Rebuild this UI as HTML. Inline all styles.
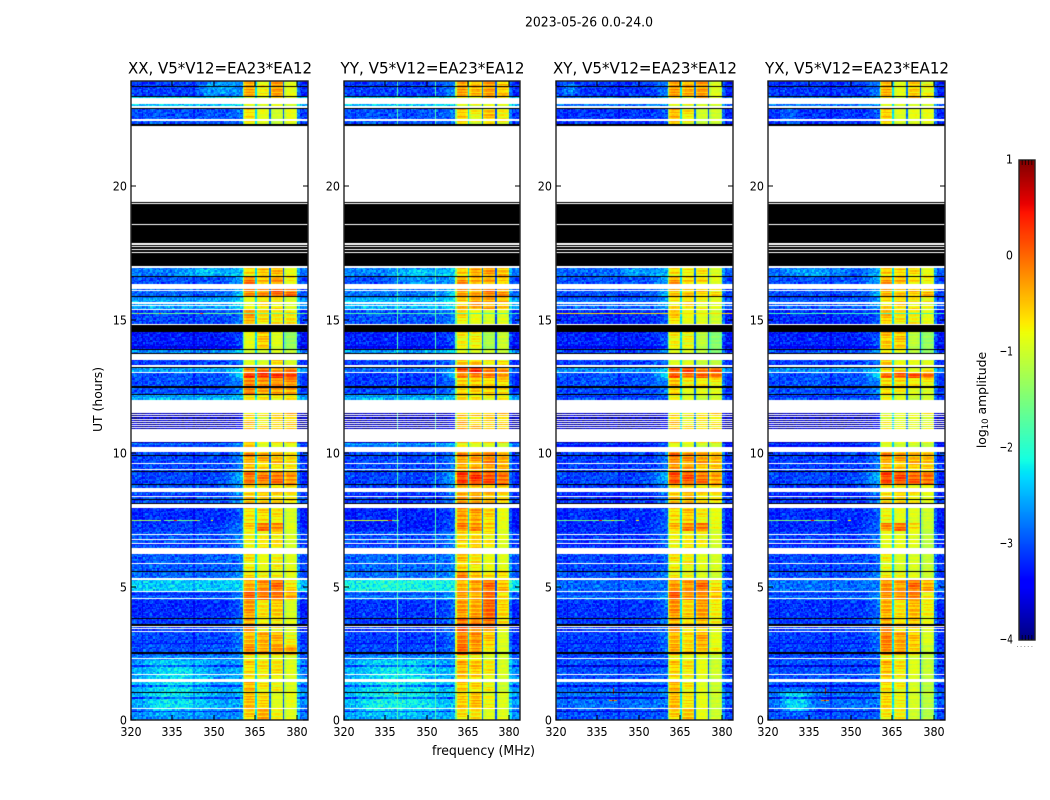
<!DOCTYPE html>
<html lang="en">
<head>
<meta charset="utf-8">
<title>2023-05-26 0.0-24.0</title>
<style>
html,body{margin:0;padding:0;background:#fff;width:1050px;height:800px;overflow:hidden}
#figure{position:relative;width:1050px;height:800px;background:#fff}
canvas{position:absolute;display:block}
svg{position:absolute;left:0;top:0}
text{font-family:"DejaVu Sans","Liberation Sans",sans-serif;fill:#000}
</style>
</head>
<body>
<div id="figure">
<canvas id="heat-XX"></canvas>
<canvas id="heat-YY"></canvas>
<canvas id="heat-XY"></canvas>
<canvas id="heat-YX"></canvas>
<canvas id="cbar"></canvas>
<svg id="overlay" width="1050" height="800" viewBox="0 0 1050 800">
<text x="589" y="26.5" font-size="13.2" text-anchor="middle" textLength="128" lengthAdjust="spacingAndGlyphs">2023-05-26 0.0-24.0</text>
<text x="483.5" y="755" font-size="13.2" text-anchor="middle" textLength="103" lengthAdjust="spacingAndGlyphs">frequency (MHz)</text>
<text transform="translate(102 399.5) rotate(-90)" font-size="12.4" text-anchor="middle">UT (hours)</text>
<text transform="translate(986 400) rotate(-90)" font-size="12.4" text-anchor="middle">log<tspan dy="2" font-size="8.5">10</tspan><tspan dy="-2"> amplitude</tspan></text>
</svg>
</div>
<script>
/* ---------- axes data ---------- */
const panelNames = ['XX','YY','XY','YX'];
const panelTitles = ['XX, V5*V12=EA23*EA12','YY, V5*V12=EA23*EA12','XY, V5*V12=EA23*EA12','YX, V5*V12=EA23*EA12'];
const xTicks = [320,335,350,365,380];
const yTicks = [0,5,10,15,20];
const colorTicks = [1,0,-1,-2,-3,-4];
const colorTickLabels = ['1','0','\u22121','\u22122','\u22123','\u22124'];

/* ---------- time structure, in UT hours ---------- */
const scanEdges = [23.95,23.37,23.09,22.94,22.28,16.95,16.60,16.17,15.89,15.40,14.82,13.92,13.51,13.23,13.03,12.78,12.47,12.20,11.56,10.42,10.06,9.62,9.32,8.85,8.11,7.40,7.10,6.43,5.60,5.25,4.82,4.52,3.84,3.28,2.80,2.47,2.27,1.44,1.01,0.40,0];
const blackRows = [[23.77,23.75],[23.39,23.36],[22.95,22.90],[22.32,22.28],[19.40,19.36],[19.34,17.00],[16.64,16.60],[15.91,15.87],[14.82,14.54],[13.92,13.89],[13.75,13.71],[13.23,13.20],[12.50,12.45],[12.22,12.18],[9.95,9.91],[9.33,9.30],[8.85,8.79],[8.30,8.27],[8.15,8.11],[5.60,5.55],[3.84,3.79],[3.58,3.54],[2.53,2.47],[1.05,1.01]];
const whiteRows = [[23.30,23.09],[23.03,22.94],[22.54,22.51],[22.48,22.45],[22.28,19.40],[19.36,19.34],[18.59,18.55],[17.86,17.82],[17.77,17.73],[17.66,17.63],[17.54,17.50],[17.00,16.95],[16.36,16.17],[16.11,16.08],[15.65,15.61],[15.55,15.52],[15.40,15.37],[14.86,14.82],[13.71,13.51],[13.31,13.23],[13.06,13.03],[11.98,11.56],[11.54,11.50],[11.46,11.42],[11.38,11.34],[11.30,11.26],[11.22,11.18],[11.14,11.10],[11.06,11.02],[10.98,10.94],[10.92,10.42],[10.25,10.06],[9.63,9.60],[9.41,9.37],[8.68,8.55],[8.40,8.34],[8.11,7.96],[6.99,6.95],[6.78,6.73],[6.63,6.58],[6.43,6.24],[5.87,5.83],[5.34,5.25],[4.85,4.82],[4.57,4.52],[3.52,3.49],[3.45,3.42],[3.35,3.28],[2.31,2.27],[1.74,1.71],[1.52,1.44],[0.44,0.40]];
const dimRows = [[2.06,2.02],[1.31,1.27],[0.83,0.79],[0.34,0.30]];

/* ---------- spectral structure, in MHz ---------- */
const subBands = [[360.5,365.1],[365.7,370.1],[370.7,375.1],[375.7,380]];
const bandGaps = [[365.1,365.7],[370.1,370.7],[375.1,375.7]];
const gapLevels = [-2.3,-2.8,-3.0];
const shoulderBoost = [.4,.2,.1,.2,0,.4,.4,.5,.3,.3,.3,.4,.3,.4,.7,.3,.3,.2,.3,.3,.3,.3,.6,.4,.3,.3,.3,.2,.2,.05,.3,.3,.3,.25,.25,.1,.1,.1,.1,.1];

/* ---------- log10 amplitude per scan: background, sub-band 1..4 ---------- */
const levelsXX = [[-3.1,-.35,-.75,-.3,-.85],[-2.3,-.8,-.85,-.8,-.95],[-2.4,-.8,-.9,-.7,-1],[-3,-.6,-.85,-1,-.85],[-3,-1,-1,-1,-1],[-2.8,-.6,-.45,-.45,-.85],[-3,-.1,-.4,-.2,-.7],[-2.9,-.2,-.2,.05,-.1],[-2.6,-.85,-.75,-.7,-.9],[-3.05,-.35,-.7,-.75,-.7],[-3.3,-.85,-.5,-.9,-1.3],[-2.7,-1,-1,-.9,-1],[-3.1,-.9,-.95,-.6,-.95],[-2.6,-.2,-.1,-.3,-.1],[-3,.3,.3,.2,.15],[-3,-.1,-.2,-.2,-.2],[-3,-.05,-.4,-.3,-.3],[-2.5,-.7,-.7,-.7,-.75],[-3.8,-.5,-.7,-.5,-.45],[-2.85,-.5,-.9,-.85,-.85],[-3.05,-.3,-.4,-.5,-.65],[-3.05,-.4,-.55,-.65,-.75],[-3.05,-.05,-.1,-.05,-.2],[-3,-.5,-.6,-.55,-.7],[-3.2,-.65,-.6,-.7,-.95],[-3.1,-.55,-.05,-.15,-.85],[-3,-.8,-.75,-.7,-.95],[-2.95,-.7,-.85,-.8,-.9],[-2.9,-.6,-.7,-.7,-.85],[-2.4,-.35,-.2,-.05,-.65],[-2.95,.05,-.1,-.05,-.3],[-3.2,-.3,-.7,-.55,-.95],[-3.1,-.3,-.7,-.7,-.9],[-3.05,-.4,-.35,-.4,-.8],[-3,-.2,-.4,-.25,-.3],[-2.8,-.8,-.9,-.9,-1],[-2.65,-.6,-.7,-.7,-.9],[-2.6,-.4,-.7,-.8,-.9],[-2.6,-.45,-.6,-.9,-.85],[-2.75,-.6,-.4,-.8,-.9]];
const levelsYY = [[-3.1,-.3,-.4,-.3,-.5],[-2.3,-.6,-.7,-.6,-.8],[-2.4,-.8,-.8,-.7,-.9],[-3,-.5,-.8,-.5,-.8],[-3,-1,-1,-1,-1],[-2.75,-.5,-.3,-.3,-.5],[-3,-.25,-.3,-.3,-.5],[-2.8,-.3,-.3,-.1,-.3],[-2.5,-.5,-.35,-.3,-.4],[-3,-.7,-.85,-.95,-.9],[-3.25,-.75,-.75,-1.2,-1],[-2.6,-.9,-.9,-1,-1],[-3.1,-.5,-.5,-.8,-.7],[-2.9,.2,.25,-.1,-.2],[-3.1,-.1,-.05,-.2,-.3],[-3.1,-.5,-.5,-.6,-.6],[-3.05,-.5,-.6,-.55,-.6],[-2.5,-.6,-.7,-.75,-.8],[-3.8,-.4,-.5,-.45,-.5],[-2.6,-.8,-.9,-.9,-1],[-3.05,-.25,-.3,-.2,-.4],[-3.05,-.3,-.3,-.25,-.45],[-3.05,.25,.25,.15,0],[-3.1,-.3,-.4,-.4,-.6],[-3.25,-.25,-.3,-.6,-.85],[-3.25,-.15,-.2,-.5,-.85],[-3,-.6,-.6,-.75,-.9],[-2.9,-.5,-.7,-.85,-.9],[-2.85,-.1,-.4,-.6,-.6],[-2.2,-.4,-.3,-.05,-.45],[-2.8,-.3,-.4,0,-.6],[-3.15,-.3,-.35,0,-.6],[-3.1,0,-.1,-.05,-.7],[-3.1,-.1,-.2,-.5,-.9],[-3.05,0,-.3,-.7,-.9],[-2.8,-.7,-.8,-1,-1],[-2.6,-.4,-.5,-.75,-.95],[-2.55,-.5,-.6,-.8,-1],[-2.5,-.55,-.45,-.8,-.9],[-2.6,-.7,-.7,-.9,-.9]];
const levelsXY = [[-3.15,-.3,-.35,-.3,-.9],[-2.8,-.5,-.7,-.5,-1],[-2.8,-.8,-.8,-.8,-1],[-3.15,-.4,-.7,-1,-1],[-3,-1,-1,-1,-1],[-2.9,-.6,-.7,-.7,-.95],[-3,-.3,-.5,-.55,-.85],[-3,-.5,-.5,-.55,-.7],[-2.9,-.7,-.7,-.8,-.85],[-3.2,-.6,-.85,-.9,-1],[-3.25,-.75,-.8,-1.1,-1.4],[-3.05,-.9,-.9,-1.1,-1.4],[-3.1,-.9,-.9,-1.05,-1.1],[-2.7,.1,.1,-.1,.05],[-3,.15,0,-.05,-.1],[-3,-.4,-.7,-.7,-.75],[-3.05,-.5,-.9,-.85,-.85],[-3,-.8,-.9,-1,-1],[-3.8,-.5,-.7,-.6,-.6],[-3.1,-.85,-.9,-1,-1],[-3.1,-.1,-.25,-.35,-.45],[-3.1,-.2,-.25,-.45,-.55],[-3.05,.15,.1,-.05,-.25],[-3.15,-.5,-.5,-.6,-.7],[-3.2,-.6,-.5,-.75,-.85],[-3.2,-.45,-.15,-.05,-.8],[-3.15,-.8,-.75,-.8,-.95],[-3.05,-.7,-.8,-.9,-.95],[-3,-.7,-.75,-.9,-1],[-2.9,-.25,-.25,-.05,-.65],[-2.85,.1,-.25,-.2,-.45],[-3.15,-.25,-.6,-.3,-.75],[-3.1,-.35,-.6,-.45,-.8],[-3.1,-.4,-.6,-.35,-.85],[-3.1,-.35,-.6,-.45,-.75],[-3.05,-.8,-.9,-.9,-1.1],[-3,-.55,-.7,-.85,-1],[-2.9,-.4,-.7,-.9,-1],[-2.85,-.45,-.7,-.85,-1],[-3,-.6,-.55,-.85,-1]];
const levelsYX = [[-3.15,-.4,-.85,-.55,-.8],[-2.8,-.5,-.8,-.55,-.9],[-2.8,-.85,-.9,-.8,-1],[-3.15,-.5,-.9,-.85,-.85],[-3,-1,-1,-1,-1],[-2.9,-.5,-.55,-.65,-.85],[-3,-.3,-.35,-.6,-.7],[-3,-.4,-.5,-.5,-.5],[-2.95,-.65,-.65,-.7,-.75],[-3.2,-.5,-.75,-.8,-.85],[-3.25,-.5,-.5,-1.1,-1.3],[-3,-.75,-.8,-1.1,-1.3],[-3.1,-.5,-.85,-.85,-.9],[-2.7,-.6,-.65,-.9,-.7],[-3,.05,.1,.05,-.05],[-3,-.55,-.6,-.7,-.75],[-3,-.55,-.8,-.9,-.9],[-3,-.8,-.9,-1,-1],[-3.8,-.8,-.85,-.8,-.8],[-3.1,-.9,-1,-1,-1.05],[-3.1,-.25,-.35,-.45,-.45],[-3.1,-.4,-.45,-.5,-.6],[-3.05,.2,.15,.05,0],[-3.15,-.6,-.65,-.7,-.85],[-3.2,-.75,-.85,-.9,-1],[-3.2,-.2,-.05,-.6,-1],[-3.1,-.85,-.85,-.9,-1.1],[-3.05,-.8,-.95,-.95,-1.05],[-3,-.7,-.75,-.85,-1],[-2.85,-.2,-.3,-.05,-.35],[-2.9,-.25,-.25,-.1,-.7],[-3.15,-.4,-.7,-.45,-.75],[-3.1,-.3,-.6,-.5,-.85],[-3.1,-.1,-.3,-.5,-.9],[-3.1,-.2,-.35,-.55,-1],[-3.05,-.8,-.9,-1,-1.1],[-3,-.45,-.7,-.9,-1.05],[-2.95,-.6,-.75,-.95,-1.1],[-2.85,-.6,-.8,-.95,-1.1],[-3,-.75,-.8,-1,-1.15]];

/* ---------- soft background glows: hourTop, hourBottom, MHzLow, MHzHigh, peak added log10 amplitude ---------- */
const patchesXX = [[2.47,0,320,352,.35],[23.95,23.37,342,360,.5],[16.95,16.6,335,360,.35]];
const patchesYY = [[2.47,0,320,358,.35],[5.25,4.82,320,356,.12],[16.95,16.17,335,360,.35]];
const patchesXY = [[23.95,23.37,321,329,.4],[16.95,16.6,340,360,.3]];
const patchesYX = [[1.2,.2,322,338,.5],[16.95,16.6,322,350,.3],[23.09,22.28,322,332,.2]];

/* ---------- narrow interference: hourTop, hourBottom, MHzLow, MHzHigh, log10 amplitude ---------- */
const rfiXX = [[7.48,7.44,320,331,-1.3],[7.48,7.44,332,345,-1.6],[7.48,7.44,335.5,336.5,.4],[7.48,7.44,349,349.5,-.8],[7.48,7.44,343,344,-.6],[15.25,15.21,320,384,-1.6],[15.25,15.21,322,323,-.2],[15.25,15.21,330,331,-.2],[15.25,15.21,345,346,.2]];
const rfiYY = [[23.95,0,339.2,339.7,-1.8],[23.95,0,353,353.5,-1.8],[7.48,7.44,320,336,-1],[7.48,7.44,336,337.5,.5],[7.48,7.44,337.5,340,-1.5],[15.25,15.21,320,384,-1.8],[1.0,.96,338,340,-.4]];
const rfiXY = [[7.48,7.44,320,345,-1.6],[7.48,7.44,335.5,336.5,.5],[7.48,7.44,349,350,-.7],[7.48,7.44,340,341,-.8],[15.25,15.21,320,384,-.6],[1.2,.98,340.5,341,.8],[.76,.70,339,342,-.2],[.76,.70,340.2,341,.8]];
const rfiYX = [[7.48,7.44,320,345,-1.5],[7.48,7.44,335.5,336.5,.5],[7.48,7.44,349,350,-.7],[15.25,15.21,320,384,-1.9],[15.25,15.21,327,328,-.9],[15.25,15.21,340,341,-.9],[1.2,.98,340.5,341,.8],[.76,.70,339,342,-.2],[.76,.70,340.2,341,.8]];

/* ---------- hand-read texture offsets that give the noisy look ---------- */
const speckA = [.12,-.2,.05,.24,-.11,-.27,.18,.02,-.15,.28,-.06,.09,-.23,.16,-.02,.21,-.18,.07,-.29,.13,.26,-.09,-.14,.03,.19,-.25,.1,-.04,.23,-.17,.06,-.21,.15,-.08,.27,-.12,.01];
const speckB = [-.1,.14,-.03,.08,-.16,.11,.02,-.07,.17,-.13,.05,.12,-.18,.09,-.01,.15,-.12,.04,-.06,.18,-.15,.07,-.09];
const bandRipple = [.08,-.12,.15,-.04,.18,-.16,.03,.12,-.2,.06,.14,-.08,-.14];

const panelLefts = [131,344,556,768];
const panelRights = [308,520,733,945];
const panelTop = 81, panelBottom = 720;
const xMin = 320, xMax = 384, yMin = 0, yMax = 23.95;
const levelTables = [levelsXX,levelsYY,levelsXY,levelsYX];
const rfiTables = [rfiXX,rfiYY,rfiXY,rfiYX];
const patchTables = [patchesXX,patchesYY,patchesXY,patchesYX];

function xScale(panel, mhz){ return panelLefts[panel] + (mhz-xMin)/(xMax-xMin)*(panelRights[panel]-panelLefts[panel]); }
function yScale(hour){ return panelBottom - (hour-yMin)/(yMax-yMin)*(panelBottom-panelTop); }
function clamp01(v){ return Math.max(0,Math.min(1,v)); }
function interp(pts,t){
  for(let i=1;i<pts.length;i++){ if(t<=pts[i][0]){ const a=pts[i-1],b=pts[i]; return a[1]+(b[1]-a[1])*(t-a[0])/(b[0]-a[0]); } }
  return pts[pts.length-1][1];
}
const jetR=[[0,0],[.35,0],[.66,1],[.89,1],[1,.5]];
const jetG=[[0,0],[.125,0],[.375,1],[.64,1],[.91,0],[1,0]];
const jetB=[[0,.5],[.11,1],[.34,1],[.65,0],[1,0]];
function colorOf(level){
  const t=clamp01((level+4)/5);
  return 'rgb('+Math.round(255*interp(jetR,t))+','+Math.round(255*interp(jetG,t))+','+Math.round(255*interp(jetB,t))+')';
}
function blockIndex(hour){
  for(let i=0;i<scanEdges.length-1;i++){ if(hour>scanEdges[i+1]) return i; }
  return scanEdges.length-2;
}
function glow(p,mhz,hour){
  if(hour>p[0]||hour<p[1]||mhz<p[2]||mhz>=p[3]) return 0;
  const mid=(p[2]+p[3])/2;
  const tentF=1-Math.abs(mhz-mid)/((p[3]-p[2])/2);
  const hourMid=(p[0]+p[1])/2;
  const tentH=1-Math.abs(hour-hourMid)/((p[0]-p[1])/2);
  return p[4]*Math.min(1,tentF*1.4)*Math.min(1,tentH*3);
}
function cellLevel(levels,patches,mhz,hour,c,r){
  const b=blockIndex(hour), row=levels[b];
  const noise=speckA[(c*17+r*29+c*r)%37]+speckB[(c*5+r*11)%23];
  for(let i=0;i<subBands.length;i++){
    const s=subBands[i];
    if(mhz>=s[0]&&mhz<s[1]){
      const d=(mhz-(s[0]+s[1])/2)/((s[1]-s[0])/2);
      let v=row[i+1]-.3*d*d*d*d+bandRipple[(r+i*3)%13]*(row[i+1]>-.85?1.3:.5)+noise*.2;
      if(i===0&&mhz<361) v-=.7;
      return v;
    }
  }
  for(let i=0;i<bandGaps.length;i++){
    if(mhz>=bandGaps[i][0]&&mhz<bandGaps[i][1]) return gapLevels[i]+noise*.4;
  }
  let base=row[0];
  if(mhz>=354&&mhz<360.5) base+=shoulderBoost[b]*(mhz-354)/6.5;
  if(mhz>=380&&mhz<381) base+=.25;
  if(mhz>=381) base-=.1;
  for(const p of patches) base+=glow(p,mhz,hour);
  for(const d of dimRows){ if(hour<=d[0]&&hour>=d[1]) base-=.6; }
  return base+noise;
}
function drawRow(ctx,panel,left,h0,h1,color){
  const y0=Math.round(yScale(h0))-panelTop;
  let y1=Math.round(yScale(h1))-panelTop;
  if(y1<=y0) y1=y0+1;
  ctx.fillStyle=color;
  ctx.fillRect(0,y0,panelRights[panel]-left,y1-y0);
}
function drawPanel(panel){
  const left=panelLefts[panel], right=panelRights[panel];
  const cv=document.getElementById('heat-'+panelNames[panel]);
  cv.width=right-left; cv.height=panelBottom-panelTop;
  cv.style.left=left+'px'; cv.style.top=panelTop+'px';
  const ctx=cv.getContext('2d');
  const levels=levelTables[panel], patches=patchTables[panel];
  const dF=.5, dH=.05;
  const nC=Math.round((xMax-xMin)/dF), nR=Math.ceil((yMax-yMin)/dH);
  for(let r=0;r<nR;r++){
    const h0=yMin+r*dH, h1=h0+dH;
    const y1=Math.round(yScale(h0))-panelTop, y0=Math.round(yScale(h1))-panelTop;
    for(let c=0;c<nC;c++){
      const f0=xMin+c*dF;
      const x0=Math.round(xScale(panel,f0))-left, x1=Math.round(xScale(panel,f0+dF))-left;
      ctx.fillStyle=colorOf(cellLevel(levels,patches,f0+dF/2,h0+dH/2,c,r));
      ctx.fillRect(x0,y0,x1-x0,y1-y0);
    }
  }
  for(const q of rfiTables[panel]){
    const x0=Math.round(xScale(panel,q[2]))-left, x1=Math.max(x0+1,Math.round(xScale(panel,q[3]))-left);
    const y0=Math.round(yScale(q[0]))-panelTop, y1=Math.max(y0+1,Math.round(yScale(q[1]))-panelTop);
    ctx.fillStyle=colorOf(q[4]);
    ctx.fillRect(x0,y0,x1-x0,y1-y0);
  }
  for(const q of blackRows) drawRow(ctx,panel,left,q[0],q[1],'#000');
  for(const q of whiteRows) drawRow(ctx,panel,left,q[0],q[1],'#fff');
}

const svg=document.getElementById('overlay');
function svgEl(tag,name,attrs,text){
  const el=document.createElementNS('http://www.w3.org/2000/svg',tag);
  
  
  for(const k in attrs) el.setAttribute(k,attrs[k]);
  if(text!==undefined) el.textContent=text;
  svg.appendChild(el);
  return el;
}
function tickWidth(label){
  let w=0;
  for(const ch of label) w+= ch==='\u2212' ? 6.4 : 7.1;
  return w;
}
function drawAxes(panel){
  const L=panelLefts[panel], R=panelRights[panel], label=panelNames[panel].toLowerCase();
  svgEl('rect',label+'-axes-frame',{x:L,y:panelTop,width:R-L,height:panelBottom-panelTop,fill:'none',stroke:'#222','stroke-width':1.4});
  svgEl('text',label+'-panel-title',{x:(L+R)/2+.5,y:73.5,'font-size':16,'text-anchor':'middle',textLength:184,lengthAdjust:'spacingAndGlyphs'},panelTitles[panel]);
  for(const t of xTicks){
    const x=Math.round(xScale(panel,t));
    svgEl('line',label+'-x-tick-'+t,{x1:x,x2:x,y1:panelBottom,y2:panelBottom-5,stroke:'#000','stroke-width':1});
    svgEl('line',label+'-x-tick-top-'+t,{x1:x,x2:x,y1:panelTop,y2:panelTop+5,stroke:'#000','stroke-width':1});
    svgEl('text',label+'-x-tick-label-'+t,{x:x,y:736,'font-size':12.8,'text-anchor':'middle',textLength:tickWidth(String(t)),lengthAdjust:'spacingAndGlyphs'},String(t));
  }
  for(const t of yTicks){
    const y=Math.round(yScale(t));
    svgEl('line',label+'-y-tick-'+t,{x1:L,x2:L+5,y1:y,y2:y,stroke:'#000','stroke-width':1});
    svgEl('line',label+'-y-tick-right-'+t,{x1:R-5,x2:R,y1:y,y2:y,stroke:'#000','stroke-width':1});
    svgEl('text',label+'-y-tick-label-'+t,{x:L-4,y:y+4.5,'font-size':12.8,'text-anchor':'end',textLength:tickWidth(String(t)),lengthAdjust:'spacingAndGlyphs'},String(t));
  }
}
const cbarLeft=1019, cbarRight=1035, cbarTop=160, cbarBottom=640;
function cbarY(level){ return cbarBottom-(level+4)/5*(cbarBottom-cbarTop); }
function drawColorbar(){
  const cv=document.getElementById('cbar');
  cv.width=cbarRight-cbarLeft; cv.height=cbarBottom-cbarTop;
  cv.style.left=cbarLeft+'px'; cv.style.top=cbarTop+'px';
  const ctx=cv.getContext('2d');
  for(let y=0;y<cv.height;y++){
    ctx.fillStyle=colorOf(1-(y+.5)/cv.height*5);
    ctx.fillRect(0,y,cv.width,1);
  }
  svgEl('rect','colorbar-frame',{x:cbarLeft,y:cbarTop,width:cbarRight-cbarLeft,height:cbarBottom-cbarTop,fill:'none',stroke:'#222','stroke-width':1.4});
  colorTicks.forEach(function(t,i){
    const y=cbarY(t);
    svgEl('text','colorbar-tick-label-'+i,{x:1013,y:y+3.5,'font-size':12.8,'text-anchor':'end',textLength:tickWidth(colorTickLabels[i]),lengthAdjust:'spacingAndGlyphs'},colorTickLabels[i]);
  });
  for(let i=1;i<=4;i++){
    const x=cbarLeft+i*3.2;
    svgEl('line','colorbar-top-tick-'+i,{x1:x,x2:x,y1:cbarTop,y2:cbarTop+5,stroke:'#000','stroke-width':1,'stroke-opacity':.7});
    svgEl('line','colorbar-bottom-tick-'+i,{x1:x,x2:x,y1:cbarBottom-5,y2:cbarBottom,stroke:'#000','stroke-width':1,'stroke-opacity':.7});
  }
  svgEl('line','colorbar-dotted-labels',{x1:1017,x2:1035,y1:646.5,y2:646.5,stroke:'#999','stroke-width':1,'stroke-dasharray':'1 2.6'});
}
for(let p=0;p<panelNames.length;p++){ drawPanel(p); drawAxes(p); }
drawColorbar();
</script>
</body>
</html>
